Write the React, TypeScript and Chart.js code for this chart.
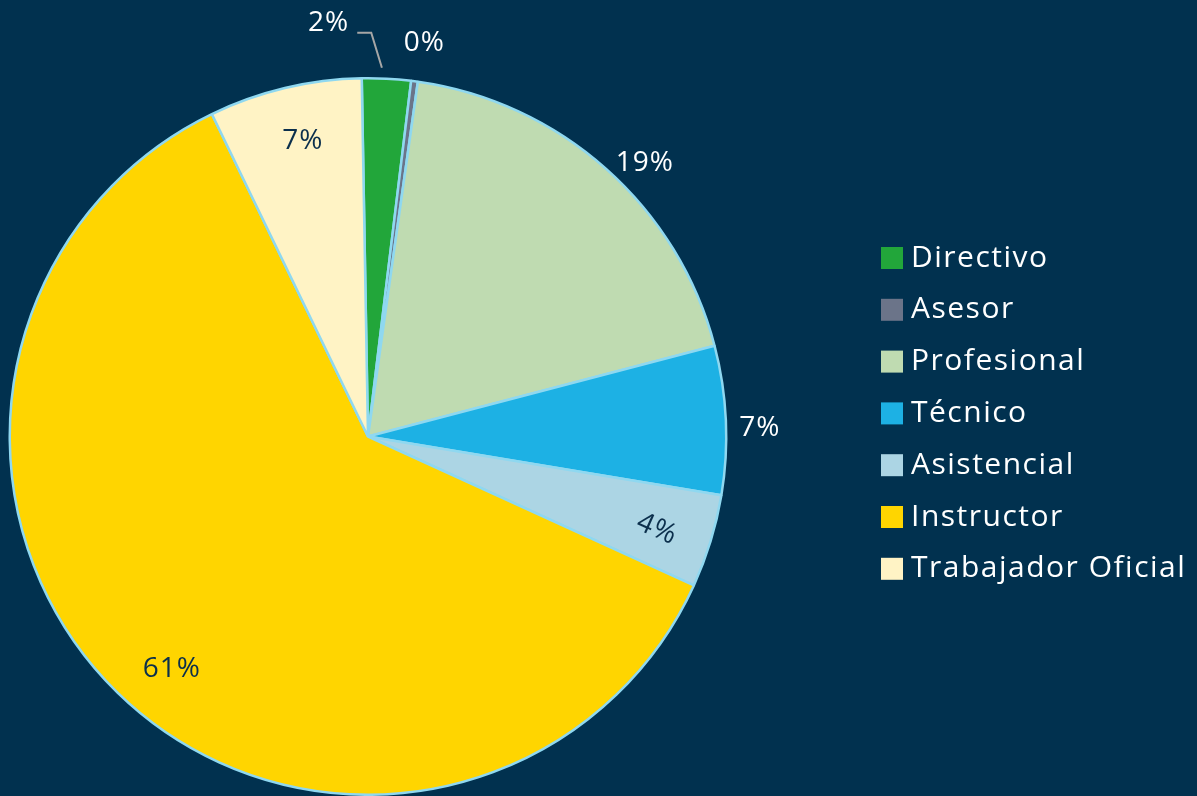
import React, { useEffect, useRef } from "react";
import { Chart, ArcElement, PieController } from "chart.js";

Chart.register(ArcElement, PieController);

const categories = ["Directivo", "Asesor", "Profesional", "Técnico", "Asistencial", "Instructor", "Trabajador Oficial"];
const shares = [2.2, 0.3, 18.7, 6.7, 4.2, 61.0, 6.9];

const sliceColors = ["#22a63a", "#6b7489", "#bfdbb1", "#1db1e4", "#acd5e4", "#ffd500", "#fff3c5"];
const BG = "#01314f";
const BORDER = "#8fd8f0";
const FONT = "'Open Sans', 'Noto Sans', sans-serif";

// label placement (style config): radial factor, angle shift (deg), colour, rotation (deg), leader
const placements = [
  { rf: 1.158, da: -8.4, color: "#ffffff", rot: 0, leader: true },
  { rf: 1.11, da: 0.7, color: "#ffffff", rot: 0, leader: false },
  { rf: 1.086, da: 3.7, color: "#ffffff", rot: 0, leader: false },
  { rf: 1.094, da: 1.4, color: "#ffffff", rot: 0, leader: false },
  { rf: 0.847, da: 0.8, color: "#0b2f4c", rot: 24, leader: false },
  { rf: 0.85, da: -4.25, color: "#0b2f4c", rot: 0, leader: false },
  { rf: 0.845, da: 1.0, color: "#0b2f4c", rot: 0, leader: false },
];

const bgPlugin = {
  id: "bgFill",
  beforeDraw(chart: any) {
    const ctx = chart.ctx;
    ctx.save();
    ctx.fillStyle = BG;
    ctx.fillRect(0, 0, chart.width, chart.height);
    ctx.restore();
  },
};

const labelPlugin = {
  id: "sliceLabels",
  afterDatasetsDraw(chart: any) {
    const ctx = chart.ctx;
    const meta = chart.getDatasetMeta(0);
    const values = chart.data.datasets[0].data as number[];
    ctx.save();
    ctx.font = `28px ${FONT}`;
    (ctx as any).letterSpacing = "1px";
    ctx.textAlign = "center";
    ctx.textBaseline = "middle";
    meta.data.forEach((arc: any, i: number) => {
      const p = arc.getProps(["x", "y", "startAngle", "endAngle", "outerRadius"], true);
      const pl = placements[i];
      const midA = (p.startAngle + p.endAngle) / 2;
      const a = midA + (pl.da * Math.PI) / 180;
      const r = p.outerRadius * pl.rf;
      const px = p.x + Math.cos(a) * r;
      const py = p.y + Math.sin(a) * r;
      const txt = Math.round(values[i]) + "%";
      if (pl.leader) {
        ctx.strokeStyle = "#a6a6a6";
        ctx.lineWidth = 2;
        ctx.beginPath();
        const a1 = midA - (0.8 * Math.PI) / 180;
        const a2 = midA - (2.5 * Math.PI) / 180;
        const sx = p.x + Math.cos(a1) * p.outerRadius * 1.03;
        const sy = p.y + Math.sin(a1) * p.outerRadius * 1.03;
        const ex = p.x + Math.cos(a2) * p.outerRadius * 1.127;
        const ey = p.y + Math.sin(a2) * p.outerRadius * 1.127;
        ctx.moveTo(sx, sy);
        ctx.lineTo(ex, ey);
        ctx.lineTo(ex - 14, ey);
        ctx.stroke();
      }
      ctx.fillStyle = pl.color;
      ctx.save();
      ctx.translate(px, py);
      ctx.rotate((pl.rot * Math.PI) / 180);
      ctx.fillText(txt, 0, 0);
      ctx.restore();
    });
    ctx.restore();
  },
};

const legendPlugin = {
  id: "sideLegend",
  afterDraw(chart: any) {
    const ctx = chart.ctx;
    const labels = chart.data.labels as string[];
    const colors = chart.data.datasets[0].backgroundColor as string[];
    ctx.save();
    ctx.font = `30px ${FONT}`;
    (ctx as any).letterSpacing = "1.5px";
    ctx.textAlign = "left";
    ctx.textBaseline = "middle";
    const x0 = 881;
    const y0 = 258;
    const step = 51.8;
    labels.forEach((lab, i) => {
      const cy = y0 + i * step;
      ctx.fillStyle = colors[i];
      ctx.fillRect(x0, cy - 11, 22, 22);
      ctx.fillStyle = "#ffffff";
      ctx.fillText(lab, x0 + 30, cy);
    });
    ctx.restore();
  },
};

export default function App() {
  const ref = useRef<HTMLCanvasElement | null>(null);
  useEffect(() => {
    document.body.style.margin = "0";
    document.body.style.background = BG;
    const canvas = ref.current!;
    const chart = new Chart(canvas, {
      type: "pie",
      data: {
        labels: categories,
        datasets: [
          {
            data: shares,
            backgroundColor: sliceColors,
            borderColor: BORDER,
            borderWidth: 2.5,
          },
        ],
      },
      options: {
        responsive: false,
        animation: false,
        rotation: -1,
        layout: { padding: { left: 8, right: 469, top: 77, bottom: 0 } },
        plugins: {
          legend: { display: false },
          tooltip: { enabled: false },
        },
      },
      plugins: [bgPlugin, labelPlugin, legendPlugin],
    });
    return () => chart.destroy();
  }, []);
  return (
    <div style={{ position: "fixed", left: 0, top: 0, width: 1197, height: 796, background: BG }}>
      <canvas ref={ref} width={1197} height={796} style={{ display: "block" }} />
    </div>
  );
}
